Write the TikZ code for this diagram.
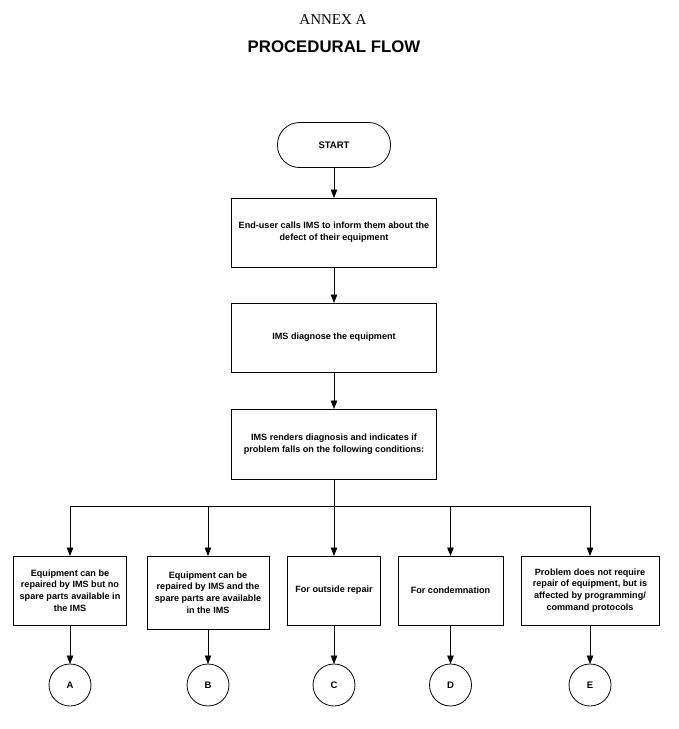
\documentclass[tikz,border=0pt]{standalone}
\usepackage{fontspec}
\setmainfont{Liberation Sans}
\newfontfamily\serifann{Liberation Serif}
\usetikzlibrary{arrows.meta,positioning}
\begin{document}
\begin{tikzpicture}[x=1pt,y=-1pt,
  every node/.style={inner sep=0pt, outer sep=0pt},
  procbox/.style={draw, line width=0.8pt, align=center, font=\bfseries\fontsize{9.1}{11.8}\selectfont},
  termbox/.style={draw, line width=0.8pt, rounded corners=22pt, minimum width=113pt, minimum height=45pt, font=\bfseries\fontsize{9.5}{11}\selectfont},
  connbox/.style={draw, circle, line width=0.8pt, minimum size=42pt, font=\bfseries\fontsize{9.5}{11}\selectfont},
  flow/.style={line width=0.8pt, -{Triangle[length=8.5pt,width=6.5pt]}},
  plain/.style={line width=0.8pt}
]
\useasboundingbox (0,0) rectangle (679,729);
\node (annex) at (333,20) {\serifann\fontsize{15}{18}\selectfont ANNEX A};
\node (title) at (334,47) {\bfseries\fontsize{16.8}{20}\selectfont PROCEDURAL FLOW};

\node[termbox] (start) at (334,145) {START};
\node[procbox, minimum width=205pt, minimum height=69pt] (b1) at (334,232.5)
  {End-user calls IMS to inform them about the\\defect of their equipment};
\node[procbox, minimum width=205pt, minimum height=69pt] (b2) at (334,337.5)
  {IMS diagnose the equipment};
\node[procbox, minimum width=205pt, minimum height=70pt] (b3) at (334,444)
  {IMS renders diagnosis and indicates if\\problem falls on the following conditions:};

\node[procbox, minimum width=113pt, minimum height=69pt] (ba) at (70,590.5)
  {Equipment can be\\repaired by IMS but no\\spare parts available in\\the IMS};
\node[procbox, minimum width=122pt, minimum height=73pt] (bb) at (208,592.5)
  {Equipment can be\\repaired by IMS and the\\spare parts are available\\in the IMS};
\node[procbox, minimum width=93pt, minimum height=69pt] (bc) at (334,590.5)
  {For outside repair};
\node[procbox, minimum width=105pt, minimum height=69pt] (bd) at (450.5,590.5)
  {For condemnation};
\node[procbox, minimum width=138pt, minimum height=69pt] (be) at (590,590.5)
  {Problem does not require\\repair of equipment, but is\\affected by programming/\\command protocols};

\node[connbox] (ca) at (70,685) {A};
\node[connbox] (cb) at (208,685) {B};
\node[connbox] (cc) at (334,685) {C};
\node[connbox] (cd) at (450.5,685) {D};
\node[connbox] (ce) at (590,685) {E};

\coordinate (busl) at (70,506);
\coordinate (busr) at (590,506);
\coordinate (busm) at (334,506);

\draw[flow] (start.south) -- (b1.north);
\draw[flow] (b1.south) -- (b2.north);
\draw[flow] (b2.south) -- (b3.north);
\draw[plain] (b3.south) -- (busm);
\draw[plain] (busl) -- (busr);
\draw[flow] (busl) -- (ba.north);
\draw[flow] (busl -| bb.north) -- (bb.north);
\draw[flow] (busm) -- (bc.north);
\draw[flow] (busl -| bd.north) -- (bd.north);
\draw[flow] (busr) -- (be.north);

\draw[flow] (ba.south) -- (ca.north);
\draw[flow] (bb.south) -- (cb.north);
\draw[flow] (bc.south) -- (cc.north);
\draw[flow] (bd.south) -- (cd.north);
\draw[flow] (be.south) -- (ce.north);
\end{tikzpicture}
\end{document}
